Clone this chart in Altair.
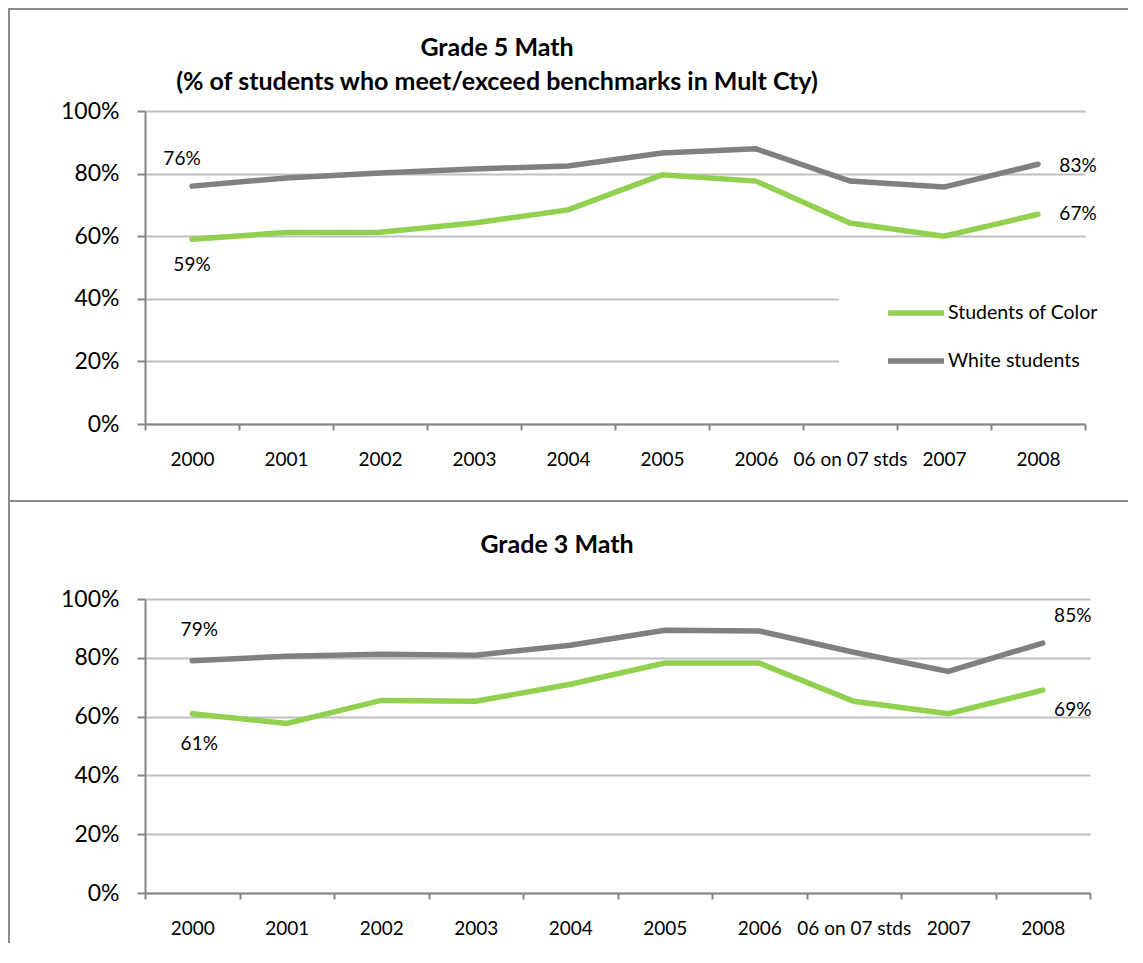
import altair as alt
import pandas as pd

# ---------------- data ----------------
categories = ["2000", "2001", "2002", "2003", "2004", "2005", "2006",
              "06 on 07 stds", "2007", "2008"]
series_names = ["Students of Color", "White students"]
series_colors = ["#92D050", "#808080"]

g5_color = [0.59, 0.612, 0.613, 0.642, 0.684, 0.796, 0.776, 0.642, 0.600, 0.67]
g5_white = [0.76, 0.786, 0.802, 0.815, 0.824, 0.866, 0.879, 0.776, 0.757, 0.83]
g3_color = [0.61, 0.577, 0.655, 0.652, 0.710, 0.782, 0.782, 0.652, 0.610, 0.69]
g3_white = [0.79, 0.805, 0.812, 0.809, 0.843, 0.894, 0.891, 0.819, 0.754, 0.85]

y_ticks = [0, 0.2, 0.4, 0.6, 0.8, 1.0]

g5_title = ["Grade 5 Math", "(% of students who meet/exceed benchmarks in Mult Cty)"]
g3_title = ["Grade 3 Math"]

FONT = "Lato"
AXIS_GRAY = "#868686"
BORDER_GRAY = "#8C8C8C"


def make_df(color_vals, white_vals):
    rows = []
    for s, vals in zip(series_names, [color_vals, white_vals]):
        for c, v in zip(categories, vals):
            rows.append({"cat": c, "series": s, "value": v})
    return pd.DataFrame(rows)


one = pd.DataFrame({"k": [0]})


def panel(df, title_lines, title_x, title_ys, w, h, show_legend, labels, frame):
    x = alt.X("cat:N", sort=categories, bandPosition=0.5,
              scale=alt.Scale(type="band", domain=categories, paddingInner=0, paddingOuter=0),
              axis=alt.Axis(title=None, labelAngle=0, tickBand="extent", grid=False,
                            domainColor=AXIS_GRAY, domainWidth=2, tickColor=AXIS_GRAY,
                            tickWidth=2, tickSize=6, labelPadding=20, labelFont=FONT,
                            labelFontSize=19, labelColor="black"))
    y = alt.Y("value:Q", scale=alt.Scale(domain=[0, 1], nice=False),
              axis=alt.Axis(title=None, values=y_ticks, format=".0%", gridColor="#C0C0C0",
                            gridWidth=2, domainColor=AXIS_GRAY, domainWidth=2,
                            tickColor=AXIS_GRAY, tickWidth=2, tickSize=8, labelPadding=18,
                            labelFont=FONT, labelFontSize=23, labelColor="black"))
    if show_legend:
        legend = alt.Legend(orient="none", legendX=694, legendY=163, title=" ",
                            titleOrient="left", titlePadding=38, fillColor="white",
                            padding=8, symbolType="stroke", symbolSize=3136,
                            symbolStrokeWidth=5.5, labelFont=FONT, labelFontSize=19.5,
                            labelColor="black", labelOffset=1, rowPadding=6)
    else:
        legend = None
    color = alt.Color("series:N",
                      scale=alt.Scale(domain=series_names, range=series_colors),
                      legend=legend)

    base = alt.Chart(df)
    lines = base.mark_line(strokeWidth=5.5, strokeCap="round").encode(
        x=x, y=y, color=color, detail="series:N")

    layers = [lines]
    for s, c, dx, dy in labels:
        layers.append(
            base.transform_filter(
                (alt.datum.series == s) & (alt.datum.cat == c)
            ).mark_text(font=FONT, fontSize=19, color="black", dx=dx, dy=dy,
                        align="center", baseline="middle").encode(
                x=x, y=y, text=alt.Text("value:Q", format=".0%"))
        )

    for line, ty in zip(title_lines, title_ys):
        layers.append(
            alt.Chart(one).mark_text(font=FONT, fontSize=25, fontWeight="bold",
                                     color="black", align="center",
                                     baseline="middle").encode(
                x=alt.value(title_x), y=alt.value(ty), text=alt.value(line))
        )

    # panel frame lines, drawn as thin filled bars (no stroke)
    for fx, fx2, fy, fy2 in frame:
        layers.append(
            alt.Chart(one).mark_rect(fill=BORDER_GRAY, strokeWidth=0).encode(
                x=alt.value(fx), x2=alt.value(fx2), y=alt.value(fy), y2=alt.value(fy2))
        )

    return alt.layer(*layers).properties(width=w, height=h)


top = panel(
    make_df(g5_color, g5_white), g5_title, 352, [-63, -29], 940, 313, True,
    [("White students", "2000", -10, -27), ("Students of Color", "2000", 0, 26),
     ("White students", "2008", 40, 2), ("Students of Color", "2008", 40, 0)],
    [(-137, 983, -103, -101),   # top border
     (-137, -135, -103, 391),   # left border
     (-137, 983, 389, 391)],    # divider
)

bottom = panel(
    make_df(g3_color, g3_white), g3_title, 412, [-54], 945, 294, False,
    [("White students", "2000", 7, -31), ("Students of Color", "2000", 7, 30),
     ("White students", "2008", 30, -27), ("Students of Color", "2008", 30, 20)],
    [(-137, -135, -97, 344)],   # left border
)

chart = alt.vconcat(top, bottom, spacing=0).properties(padding=0).configure_view(
    stroke=None).resolve_scale(color="independent")

chart.save("out.html", embed_options={"renderer": "svg", "actions": False})
